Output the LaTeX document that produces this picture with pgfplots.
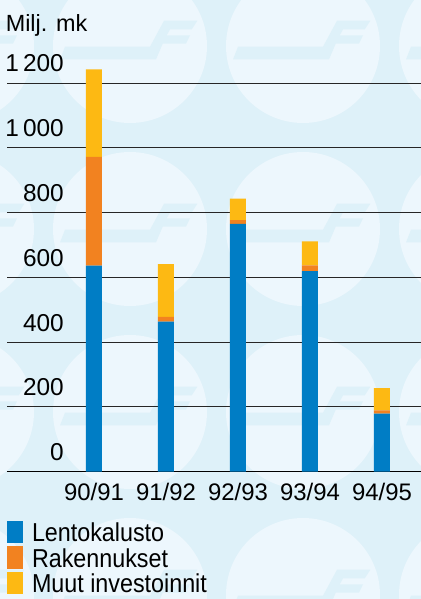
\documentclass[border=0pt]{standalone}
\usepackage{pgfplots}
\pgfplotsset{compat=1.18}
\usepackage{fontspec}
\setmainfont{Liberation Sans}
\newfontfamily\condfont{Liberation Sans}[FakeStretch=0.9]
\definecolor{bgblue}{RGB}{222,241,249}
\definecolor{circ}{RGB}{237,247,253}
\definecolor{fblue}{RGB}{0,125,197}
\definecolor{forange}{RGB}{242,130,32}
\definecolor{fyellow}{RGB}{253,185,19}
\pgfplotsset{sqlegend/.style={legend image code/.code={\fill[##1] (0bp,-1.6bp) rectangle (16bp,20.7bp);}}}
\begin{document}
\begin{tikzpicture}
\fill[bgblue] (0,0) rectangle (421bp,599bp);
\begin{scope}
\clip (0,0) rectangle (421bp,599bp);
\foreach \cx in {-43,130,303,476}{
  \foreach \cy in {46,229,412,595}{
    \begin{scope}[shift={(\cx bp,599bp-\cy bp)}, x=1bp, y=1bp]
    \fill[circ] (0,0) circle (77);
    \fill[bgblue] (-70,-13.4) -- (-65,-0.7) -- (20,-0.7) -- (34,25.3) -- (67.4,25.3) -- (61.7,16.6)
      -- (40,16.6) -- (36.7,10.6) -- (60,10.6) -- (56,2.3) -- (32.7,2.3) -- (26,-13.4) -- cycle;
    \end{scope}
  }
}
\end{scope}
\begin{axis}[
  at={(7bp,127.3bp)}, anchor=south west,
  scale only axis, width=414bp, height=421.1bp,
  xmin=-1.208, xmax=4.542, ymin=0, ymax=1300,
  ybar stacked, bar width=16bp,
  axis line style={draw=none}, major tick length=0pt,
  xtick={0,1,2,3,4},
  xticklabels={90/91,91/92,92/93,93/94,94/95},
  ytick={0,200,400,600,800,1000,1200},
  yticklabels={0,200,400,600,800,1\,000,1\,200},
  ymajorgrids, grid style={black!85, line width=0.9bp},
  yticklabel style={anchor=base east, inner sep=0pt, xshift=57bp, yshift=11bp, font=\fontsize{24.5}{28}\selectfont},
  xticklabel style={anchor=base, inner sep=0pt, yshift=-29bp, font=\fontsize{24}{28}\selectfont},
  legend cell align=left,
  legend style={at={(axis description cs:0,-0.1171)}, anchor=north west, draw=none, fill=none, inner sep=0pt, outer sep=0pt,
    row sep=3bp, column sep=0pt, cells={anchor=base west},
    nodes={inner xsep=0pt, inner ysep=0pt, text height=20.7bp, text depth=1.6bp, font=\condfont\fontsize{26}{30}\selectfont},
    /tikz/every odd column/.append style={column sep=9bp}},
]
\addplot[fill=fblue, draw=none, sqlegend] coordinates {(0,636) (1,463) (2,765) (3,619) (4,179)};
\addplot[fill=forange, draw=none, sqlegend] coordinates {(0,336) (1,15) (2,12) (3,18) (4,10)};
\addplot[fill=fyellow, draw=none, sqlegend] coordinates {(0,270) (1,163) (2,66) (3,74) (4,69)};
\legend{Lentokalusto,Rakennukset,Muut investoinnit}
\draw[black, line width=1.8bp] (axis cs:-1.208,0) -- (axis cs:4.542,0);
\end{axis}
\node[anchor=base west, inner sep=0pt, font=\fontsize{23.5}{28}\selectfont] at (5.6bp,567.3bp) {Milj. mk};
\pgfresetboundingbox
\useasboundingbox (0,0) rectangle (421bp,599bp);
\end{tikzpicture}
\end{document}
